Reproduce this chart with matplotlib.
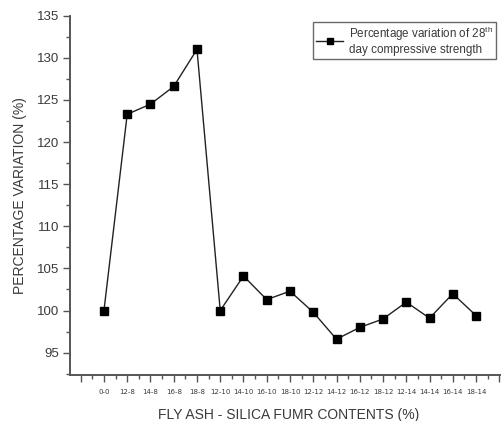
import numpy as np
import matplotlib
matplotlib.use("Agg")
import matplotlib.pyplot as plt
from matplotlib.ticker import MultipleLocator, FixedLocator

plt.rcParams['font.family'] = ['Liberation Sans', 'DejaVu Sans']

# mix labels (fly ash - silica fume) and 28th day strength variation
mixes = ['0-0', '12-8', '14-8', '16-8', '18-8', '12-10', '14-10', '16-10',
         '18-10', '12-12', '14-12', '16-12', '18-12', '12-14', '14-14',
         '16-14', '18-14']
variation = [100.0, 123.3, 124.5, 126.6, 131.0, 100.0, 104.1, 101.3,
             102.3, 99.8, 96.6, 98.0, 99.0, 101.0, 99.1, 102.0, 99.4]

txt = '#3a3a3a'
axc = '#555555'

fig = plt.figure(figsize=(5.02, 4.21), dpi=100)
ax = fig.add_axes([70 / 502, 46 / 421, 440 / 502, 359.3 / 421])

x = np.arange(len(mixes))
ax.plot(x, variation, color='#222222', lw=1.0, marker='s', ms=5.5,
        mfc='black', mec='black',
        label='Percentage variation of 28$^{\\mathregular{th}}$\nday compressive strength')

ax.set_xlim(-1.46, 17.46)
ax.set_ylim(92.35, 135)

ax.xaxis.set_major_locator(FixedLocator(np.arange(-1, 18)))
ax.xaxis.set_minor_locator(MultipleLocator(0.5))
ax.set_xticklabels([''] + mixes + [''], family='DejaVu Sans')
ax.yaxis.set_major_locator(MultipleLocator(5))
ax.yaxis.set_minor_locator(MultipleLocator(2.5))

for side in ['top', 'right']:
    ax.spines[side].set_visible(False)
for side in ['left', 'bottom']:
    ax.spines[side].set_color(axc)
    ax.spines[side].set_linewidth(1.4)

ax.tick_params(axis='x', which='major', direction='out', length=5, width=1,
               color=axc, labelsize=5.0, labelcolor=txt, pad=5)
ax.tick_params(axis='x', which='minor', direction='out', length=3, width=1, color=axc)
ax.tick_params(axis='y', which='major', direction='out', length=5, width=1,
               color=axc, labelsize=9.5, labelcolor=txt, pad=3)
ax.tick_params(axis='y', which='minor', direction='out', length=3, width=1, color=axc)

ax.set_ylabel('PERCENTAGE VARIATION (%)', fontsize=10, color=txt, labelpad=7)
ax.set_xlabel('FLY ASH - SILICA FUMR CONTENTS (%)', fontsize=10, color=txt)
ax.xaxis.set_label_coords((289 - 70) / 440, -0.092)

leg = ax.legend(loc='upper left', bbox_to_anchor=((313 - 70) / 440, 1 - (21.7 - 15.7) / 359.3),
                fontsize=8.4, frameon=True, fancybox=False, handlelength=2.3,
                borderpad=0.3, handletextpad=0.45, labelspacing=0.1,
                borderaxespad=0, markerscale=0.8)
leg.get_frame().set_edgecolor('#444444')
leg.get_frame().set_linewidth(1.0)
for t in leg.get_texts():
    t.set_color(txt)
    t.set_linespacing(1.05)

fig.savefig('out.png', dpi=100)
